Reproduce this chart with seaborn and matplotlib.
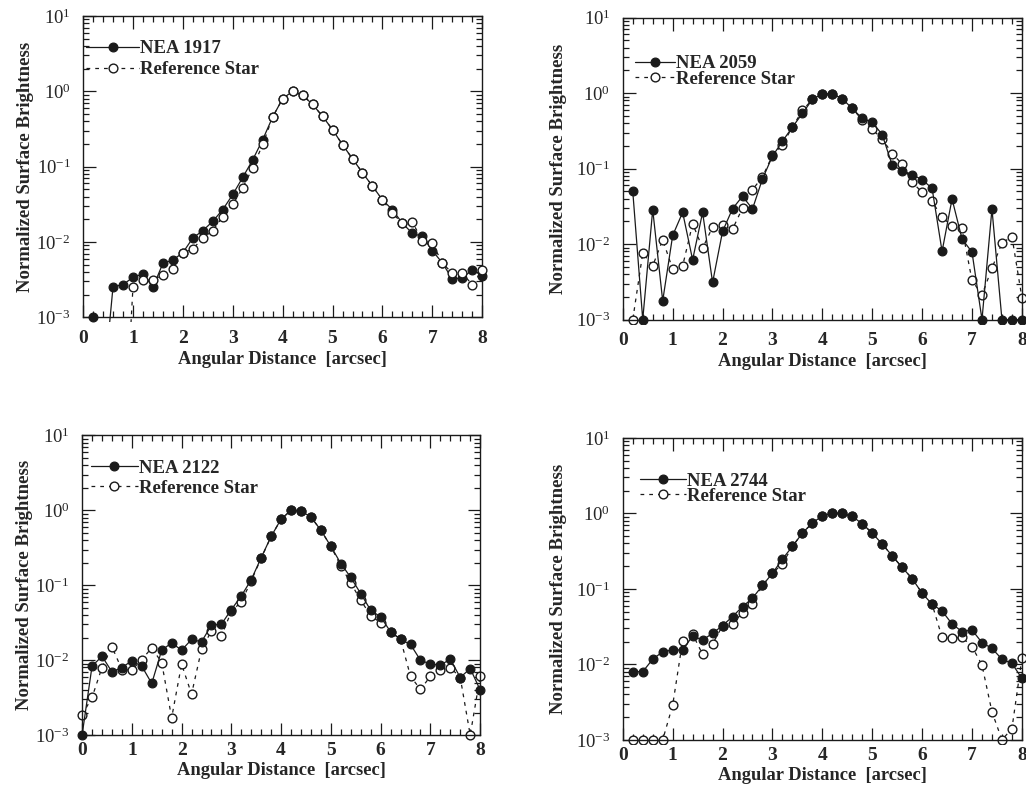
# %%
import matplotlib
matplotlib.use("Agg")
import pandas as pd
import matplotlib.pyplot as plt
from matplotlib.ticker import MultipleLocator, LogLocator, NullFormatter
from matplotlib.patches import Rectangle
import seaborn as sns

# %% values (angular distance in arcsec, normalized brightness)
x_from_02 = [0.2, 0.4, 0.6, 0.8, 1.0, 1.2, 1.4, 1.6, 1.8, 2.0,
             2.2, 2.4, 2.6, 2.8, 3.0, 3.2, 3.4, 3.6, 3.8, 4.0,
             4.2, 4.4, 4.6, 4.8, 5.0, 5.2, 5.4, 5.6, 5.8, 6.0,
             6.2, 6.4, 6.6, 6.8, 7.0, 7.2, 7.4, 7.6, 7.8, 8.0]
x_from_00 = [0.0] + x_from_02

nea1917 = [1.0e-3, 1e-4, 2.55e-3, 2.7e-3, 3.4e-3, 3.75e-3, 2.5e-3, 5.2e-3, 5.75e-3, 7.2e-3,
           1.13e-2, 1.41e-2, 1.88e-2, 2.69e-2, 4.26e-2, 7.2e-2, 0.123, 0.228, 0.456, 0.80,
           1.0, 0.885, 0.67, 0.465, 0.309, 0.195, 0.127, 0.0828, 0.055, 0.0362,
           0.0267, 0.0177, 0.013, 0.0118, 0.00767, 0.00526, 0.00322, 0.00332, 0.00424, 0.00356]
star1917 = [1e-5, 1e-5, 1e-5, 1e-5, 2.55e-3, 3.12e-3, 3.1e-3, 3.67e-3, 4.37e-3, 7.1e-3,
            8.07e-3, 1.13e-2, 1.41e-2, 2.17e-2, 3.14e-2, 5.23e-2, 9.65e-2, 0.197, 0.456, 0.80,
            1.0, 0.885, 0.67, 0.465, 0.309, 0.195, 0.127, 0.0828, 0.055, 0.0362,
            0.024, 0.0177, 0.0183, 0.0104, 0.0096, 0.00526, 0.00383, 0.00385, 0.0027, 0.00418]

nea2059 = [0.05, 1e-3, 0.0286, 1.77e-3, 0.013, 0.0263, 6.19e-3, 0.0263, 3.1e-3, 0.0147,
           0.0294, 0.043, 0.0292, 0.073, 0.146, 0.23, 0.354, 0.537, 0.824, 0.98,
           0.98, 0.84, 0.626, 0.461, 0.412, 0.282, 0.111, 0.094, 0.083, 0.0714,
           0.0548, 8.0e-3, 0.0396, 0.0117, 7.83e-3, 1e-3, 0.0292, 1e-3, 1e-3, 1e-3]
star2059 = [1e-3, 7.6e-3, 5.15e-3, 0.0114, 4.67e-3, 5.15e-3, 0.0186, 8.85e-3, 0.0168, 0.0181,
            0.0158, 0.030, 0.0526, 0.0775, 0.15, 0.208, 0.354, 0.589, 0.824, 0.98,
            0.98, 0.84, 0.626, 0.44, 0.33, 0.248, 0.158, 0.115, 0.0659, 0.0485,
            0.0368, 0.0226, 0.0175, 0.0163, 3.3e-3, 2.12e-3, 4.8e-3, 0.0103, 0.0126, 1.96e-3]

nea2122 = [1e-3, 8.3e-3, 0.0113, 6.99e-3, 7.98e-3, 9.8e-3, 8.3e-3, 4.89e-3, 0.0136, 0.017,
           0.0136, 0.0189, 0.0176, 0.0293, 0.0302, 0.0474, 0.072, 0.119, 0.234, 0.45,
           0.766, 1.0, 0.98, 0.815, 0.541, 0.331, 0.195, 0.127, 0.0774, 0.0464,
           0.0378, 0.0239, 0.019, 0.0162, 0.01, 8.85e-3, 8.6e-3, 0.0103, 5.87e-3, 7.74e-3, 4.0e-3]
star2122 = [1.85e-3, 3.18e-3, 7.98e-3, 0.0151, 7.5e-3, 7.36e-3, 0.0102, 0.0146, 9.3e-3, 1.7e-3,
            8.85e-3, 3.52e-3, 0.0139, 0.0246, 0.0209, 0.045, 0.06, 0.115, 0.23, 0.45,
            0.766, 1.0, 0.98, 0.815, 0.541, 0.331, 0.18, 0.107, 0.063, 0.0394,
            0.0315, 0.0239, 0.019, 6.1e-3, 4.06e-3, 6.1e-3, 7.5e-3, 7.98e-3, 5.87e-3, 1e-3, 6.1e-3]

nea2744 = [8.0e-3, 8.0e-3, 0.0117, 0.0147, 0.0155, 0.0155, 0.0238, 0.021, 0.0258, 0.0326,
           0.043, 0.0582, 0.0752, 0.111, 0.161, 0.248, 0.365, 0.548, 0.744, 0.93,
           1.0, 1.0, 0.91, 0.729, 0.548, 0.392, 0.274, 0.192, 0.137, 0.0875,
           0.0626, 0.051, 0.0343, 0.0272, 0.0286, 0.0194, 0.0163, 0.0117, 0.0103, 6.52e-3]
star2744 = [1e-3, 1e-3, 1e-3, 1e-3, 2.88e-3, 0.0206, 0.025, 0.0136, 0.0186, 0.0326,
            0.0343, 0.0485, 0.063, 0.111, 0.161, 0.215, 0.365, 0.548, 0.744, 0.93,
            1.0, 1.0, 0.91, 0.729, 0.548, 0.392, 0.274, 0.192, 0.137, 0.0875,
            0.0626, 0.0228, 0.0221, 0.0228, 0.0172, 9.8e-3, 2.35e-3, 1e-3, 1.41e-3, 0.012]

names = ["NEA 1917", "NEA 2059", "NEA 2122", "NEA 2744"]
xs = [x_from_02, x_from_02, x_from_00, x_from_02]
neas = [nea1917, nea2059, nea2122, nea2744]
stars = [star1917, star2059, star2122, star2744]

# %% layout (figure fractions) and per-panel tweaks
axes_rect = [[0.081, 0.603, 0.389, 0.377],
             [0.607, 0.600, 0.389, 0.378],
             [0.080, 0.080, 0.388, 0.375],
             [0.607, 0.074, 0.389, 0.378]]
legend_anchor = [(0.008, 0.92), (0.03, 0.875), (0.022, 0.92), (0.042, 0.885)]
legend_spacing = [0.22, -0.1, 0.18, -0.1]
legend_hlen = [2.8, 2.15, 2.5, 2.5]
ylabel_x = [-0.124, -0.14, -0.124, -0.14]
xtick_pad = [9, 9, 5, 5]
xlabel_pad = [3, 3, 2, 2]
star_on_top = [True, False, False, False]

sns.set_theme(style="ticks")
plt.rcParams["font.family"] = ["Liberation Serif", "DejaVu Serif"]
plt.rcParams["mathtext.fontset"] = "custom"
plt.rcParams["mathtext.rm"] = "Liberation Serif:bold"
plt.rcParams["axes.linewidth"] = 1.0

fig = plt.figure(figsize=(10.26, 7.99), dpi=100)
fig.patch.set_facecolor("white")

for i in range(4):
    ax = fig.add_axes(axes_rect[i])
    df = pd.DataFrame({"x": xs[i], "nea": neas[i], "star": stars[i]})

    z_nea, z_star = (2, 3) if star_on_top[i] else (3, 2)
    sns.lineplot(data=df, x="x", y="nea", ax=ax, color="k", lw=0.9,
                 marker="o", markersize=6.3, markerfacecolor="k",
                 markeredgecolor="k", markeredgewidth=0.9,
                 label=names[i], zorder=z_nea)
    sns.lineplot(data=df, x="x", y="star", ax=ax, color="k", lw=0.9,
                 linestyle=(0, (3, 4)), marker="o", markersize=6.3,
                 markerfacecolor="white", markeredgecolor="k",
                 markeredgewidth=1.0, label="Reference Star", zorder=z_star)

    ax.set_yscale("log")
    ax.set_xlim(0, 8)
    ax.set_ylim(1e-3, 1e1)
    ax.xaxis.set_major_locator(MultipleLocator(1))
    ax.xaxis.set_minor_locator(MultipleLocator(0.2))
    ax.yaxis.set_major_locator(LogLocator(base=10, numticks=10))
    ax.yaxis.set_minor_locator(LogLocator(base=10, subs=range(2, 10), numticks=20))
    ax.yaxis.set_minor_formatter(NullFormatter())
    ax.tick_params(which="both", direction="in", top=True, right=True,
                   color="k", width=0.9)
    ax.tick_params(which="major", length=9, labelsize=14)
    ax.tick_params(axis="y", which="major", labelsize=13.5, pad=9)
    ax.tick_params(axis="x", which="major", pad=xtick_pad[i])
    ax.tick_params(which="minor", length=4)
    for lab in ax.get_xticklabels():
        lab.set_fontweight("bold")

    # let the markers sitting on the frame show whole
    clip = Rectangle((-0.015, -0.015), 1.03, 1.03, transform=ax.transAxes)
    for line in ax.get_lines():
        line.set_clip_path(clip)

    ax.set_xlabel("Angular Distance  [arcsec]", fontsize=13.3,
                  fontweight="bold", labelpad=xlabel_pad[i])
    ax.set_ylabel("Normalized Surface Brightness", fontsize=13.5,
                  fontweight="bold")
    ax.yaxis.set_label_coords(ylabel_x[i], 0.5)

    for s in ax.spines.values():
        s.set_color("k")
    ax.set_facecolor("white")

    ax.legend(loc="upper left", bbox_to_anchor=legend_anchor[i], frameon=False,
              prop={"size": 13.5, "weight": "bold"},
              handlelength=legend_hlen[i], handletextpad=0.05,
              borderpad=0, borderaxespad=0, labelspacing=legend_spacing[i])

fig.savefig("out.png", dpi=100)
